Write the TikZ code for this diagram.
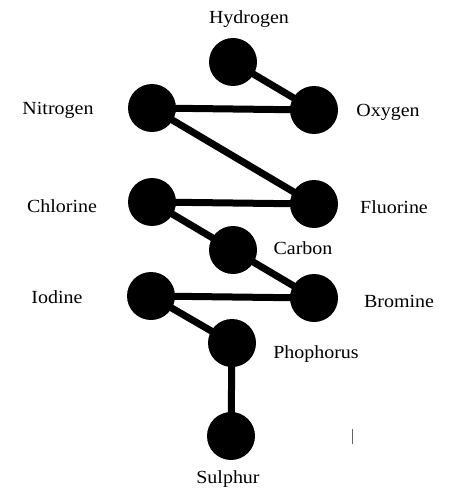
\documentclass[tikz,border=0pt]{standalone}
\usepackage{fontspec}
\setmainfont[FakeStretch=1.08]{Liberation Serif}
\begin{document}
\begin{tikzpicture}[x=1pt,y=-1pt,
  atom/.style={circle,fill=black,draw=none,minimum size=48pt,inner sep=0pt},
  lbl/.style={font=\fontsize{18.5}{20}\selectfont,inner sep=0pt,anchor=center},
  bond/.style={line width=7pt}]
\useasboundingbox (0,0) rectangle (468,497);
\node[atom] (H) at (233,62) {};
\node[atom] (N) at (152,108) {};
\node[atom] (O) at (314,110) {};
\node[atom] (Cl) at (152,202) {};
\node[atom] (F) at (314,204) {};
\node[atom] (C) at (233,250) {};
\node[atom] (I) at (151,296) {};
\node[atom] (Br) at (314,298) {};
\node[atom] (P) at (232,343) {};
\node[atom] (S) at (231,436) {};
\node[lbl] (lH) at (249,19) {Hydrogen};
\node[lbl] (lN) at (58,110) {Nitrogen};
\node[lbl] (lO) at (388,112) {Oxygen};
\node[lbl] (lCl) at (62,206) {Chlorine};
\node[lbl] (lF) at (394,207) {Fluorine};
\node[lbl] (lC) at (303,248) {Carbon};
\node[lbl] (lI) at (57,297) {Iodine};
\node[lbl] (lBr) at (399,301) {Bromine};
\node[lbl] (lP) at (316,354) {Phophorus};
\node[lbl] (lS) at (228,479) {Sulphur};
\draw[bond] (H.center) -- (O.center);
\draw[bond] (N.center) -- (O.center);
\draw[bond] (N.center) -- (F.center);
\draw[bond] (Cl.center) -- (F.center);
\draw[bond] (Cl.center) -- (C.center);
\draw[bond] (C.center) -- (Br.center);
\draw[bond] (I.center) -- (Br.center);
\draw[bond] (I.center) -- (P.center);
\draw[bond] (P.center) -- (S.center);
\coordinate (t1) at (352,429);
\coordinate (t2) at (352,444);
\draw[line width=0.8pt,black!60] (t1) -- (t2);
\end{tikzpicture}
\end{document}
